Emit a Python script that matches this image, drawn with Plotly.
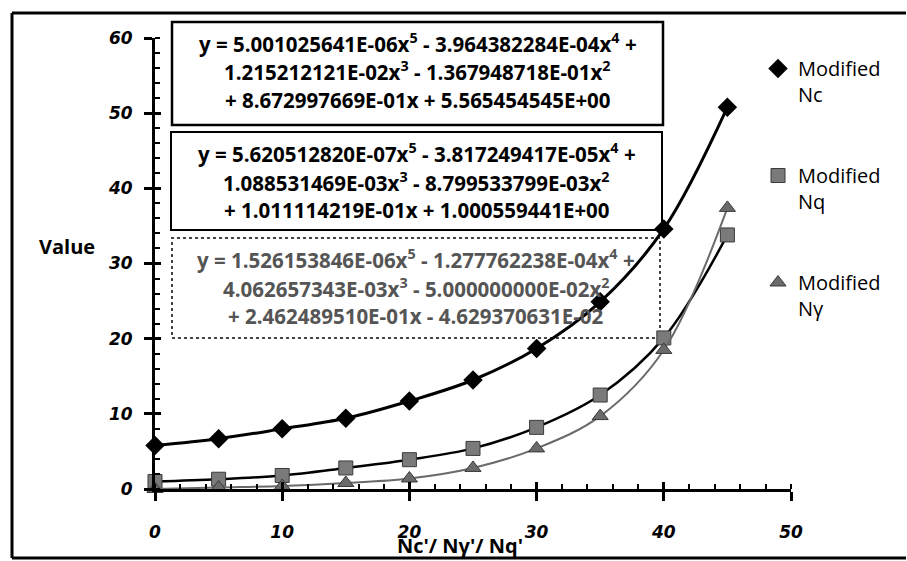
import plotly.graph_objects as go

# ---------------- data ----------------
angles = [0, 5, 10, 15, 20, 25, 30, 35, 40, 45]
nc_values = [5.8, 6.7, 8.0, 9.4, 11.7, 14.5, 18.7, 24.9, 34.6, 50.8]
nq_values = [1.0, 1.3, 1.8, 2.8, 3.9, 5.4, 8.2, 12.5, 20.1, 33.8]
ng_values = [0.0, 0.2, 0.4, 0.8, 1.4, 2.8, 5.4, 9.7, 18.5, 37.4]

series_names = ["Modified<br>Nc", "Modified<br>Nq", "Modified<br>Nγ"]

x_ticks = [0, 10, 20, 30, 40, 50]
y_ticks = [0, 10, 20, 30, 40, 50, 60]

eq_nc = ["y = 5.001025641E-06x<sup>5</sup> - 3.964382284E-04x<sup>4</sup> +",
         "1.215212121E-02x<sup>3</sup> - 1.367948718E-01x<sup>2</sup>",
         "+ 8.672997669E-01x + 5.565454545E+00"]
eq_nq = ["y = 5.620512820E-07x<sup>5</sup> - 3.817249417E-05x<sup>4</sup> +",
         "1.088531469E-03x<sup>3</sup> - 8.799533799E-03x<sup>2</sup>",
         "+ 1.011114219E-01x + 1.000559441E+00"]
eq_ng = ["y = 1.526153846E-06x<sup>5</sup> - 1.277762238E-04x<sup>4</sup> +",
         "4.062657343E-03x<sup>3</sup> - 5.000000000E-02x<sup>2</sup>",
         "+ 2.462489510E-01x - 4.629370631E-02"]

# ---------------- layout helpers (pixel -> paper) ----------------
W, H = 907, 561
L, R, T, B = 155, 116, 38, 72
PW, PH = W - L - R, H - T - B


def px(x):
    return (x - L) / PW


def py(y):
    return (H - B - y) / PH


fig = go.Figure()

line_styles = [dict(color="black", width=3, shape="spline", smoothing=1.0),
               dict(color="black", width=2.5, shape="spline", smoothing=1.0),
               dict(color="#6a6a6a", width=2, shape="spline", smoothing=1.0)]
marker_styles = [dict(symbol="diamond", size=15, color="black"),
                 dict(symbol="square", size=14, color="#7a7a7a",
                      line=dict(color="#3a3a3a", width=1)),
                 dict(symbol="triangle-up", size=14, color="#6a6a6a",
                      line=dict(color="#3a3a3a", width=1))]
groups = ["a", "b", "c"]

for vals, name, ls, ms, g in zip([nc_values, nq_values, ng_values], series_names,
                                 line_styles, marker_styles, groups):
    fig.add_trace(go.Scatter(x=angles, y=vals, mode="lines", line=ls,
                             showlegend=False, legendgroup=g, hoverinfo="skip"))
    fig.add_trace(go.Scatter(x=angles, y=vals, name=name, mode="markers",
                             marker=ms, cliponaxis=False, legendgroup=g))

# helper trace so the overlay axes (crossing ticks) are drawn
fig.add_trace(go.Scatter(x=[None], y=[None], xaxis="x2", yaxis="y2",
                         showlegend=False, hoverinfo="skip"))

tick_font = dict(family="DejaVu Sans", size=17, color="black",
                 weight="bold", style="italic")

fig.update_layout(
    width=W, height=H,
    margin=dict(l=L, r=R, t=T, b=B),
    paper_bgcolor="white", plot_bgcolor="white",
    font=dict(family="Open Sans", color="black"),
    xaxis=dict(range=[0, 50], tickvals=x_ticks, showgrid=False, zeroline=False,
               showline=True, linecolor="black", linewidth=3,
               ticks="outside", ticklen=9, tickwidth=3, tickcolor="black",
               minor=dict(ticks="inside", dtick=2, ticklen=5, tickwidth=2,
                          tickcolor="black", showgrid=False),
               tickfont=tick_font, ticklabelstandoff=17),
    yaxis=dict(range=[0, 60], tickvals=y_ticks, showgrid=False, zeroline=False,
               showline=True, linecolor="black", linewidth=3,
               ticks="outside", ticklen=8, tickwidth=3, tickcolor="black",
               minor=dict(ticks="inside", dtick=2, ticklen=5, tickwidth=2,
                          tickcolor="black", showgrid=False),
               tickfont=tick_font, ticklabelstandoff=8),
    xaxis2=dict(range=[0, 50], tickvals=x_ticks, overlaying="x", anchor="y",
                showgrid=False, zeroline=False, showline=False,
                ticks="inside", ticklen=7, tickwidth=3, tickcolor="black",
                showticklabels=False),
    yaxis2=dict(range=[0, 60], tickvals=y_ticks, overlaying="y", anchor="x",
                showgrid=False, zeroline=False, showline=False,
                ticks="inside", ticklen=6, tickwidth=3, tickcolor="black",
                showticklabels=False),
    showlegend=True,
    legend=dict(x=px(758), y=py(49), xanchor="left", yanchor="top",
                traceorder="grouped", tracegroupgap=52, valign="top",
                font=dict(family="Open Sans", size=20, color="black"),
                bgcolor="rgba(0,0,0,0)"),
)

# outer frame (left, top and bottom edges; the right edge lies off the image)
for (x0, y0, x1, y1) in [(12, 13, 12, 558), (12, 13, 906, 13), (12, 558, 906, 558)]:
    fig.add_shape(type="line", xref="paper", yref="paper",
                  x0=px(x0), y0=py(y0), x1=px(x1), y1=py(y1),
                  line=dict(color="black", width=3), layer="above")

# equation boxes
boxes = [((172, 663, 22, 125), "solid", 2.5, "black", eq_nc),
         ((171, 662, 132, 230), "solid", 2, "black", eq_nq),
         ((172, 660, 238, 338), "dot", 2, "#555555", eq_ng)]
for (x0, x1, y0, y1), dash, lw, tcol, lines in boxes:
    fig.add_shape(type="rect", xref="paper", yref="paper",
                  x0=px(x0), x1=px(x1), y0=py(y1), y1=py(y0),
                  line=dict(color="black" if dash == "solid" else "#444444",
                            width=lw, dash=dash),
                  fillcolor="white", layer="below")
    cx = (x0 + x1) / 2
    for i, txt in enumerate(lines):
        fig.add_annotation(x=px(cx), y=py(y0 + 21 + 28.5 * i), xref="paper", yref="paper",
                           text=txt, showarrow=False, xanchor="center", yanchor="middle",
                           font=dict(family="Open Sans", size=20.5, color=tcol, weight="bold"))

# axis titles
fig.add_annotation(x=px(67), y=py(247), xref="paper", yref="paper", text="Value",
                   showarrow=False, xanchor="center", yanchor="middle",
                   font=dict(family="Open Sans", size=20, color="black", weight="bold"))
fig.add_annotation(x=px(460), y=py(545), xref="paper", yref="paper",
                   text="Nc'/ Nγ'/ Nq'",
                   showarrow=False, xanchor="center", yanchor="middle",
                   font=dict(family="Open Sans", size=20, color="black", weight="bold"))

fig.write_html("out.html", config={"displayModeBar": False},
               post_script="document.body.style.margin='0';"
                           "document.body.style.overflow='hidden';")
